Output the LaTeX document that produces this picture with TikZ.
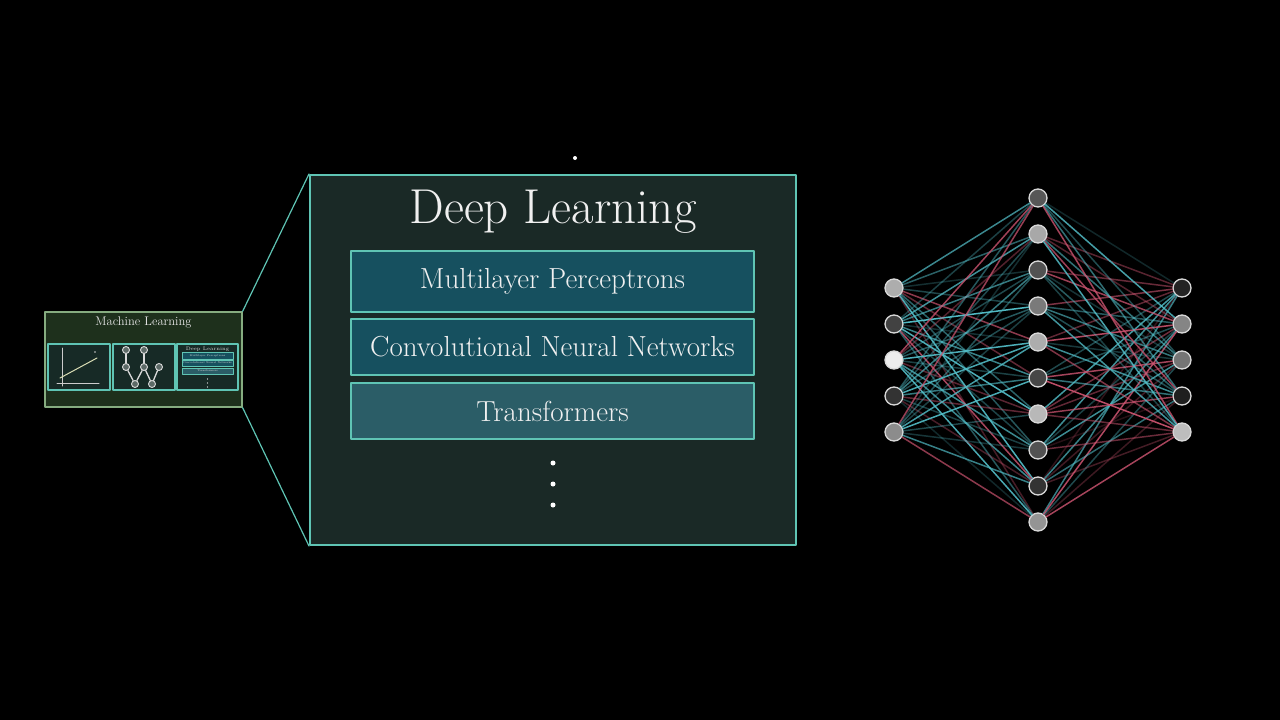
\documentclass[tikz,border=0pt]{standalone}
\usepackage{fontspec}
\usetikzlibrary{positioning}
\providecommand{\dlBorderColor}{dlborder}
\definecolor{dlborder}{HTML}{5FC4B4}
\definecolor{dlfill}{HTML}{1A2926}
\definecolor{mlpfill}{HTML}{16505F}
\definecolor{tffill}{HTML}{2B5D67}
\definecolor{mlfill}{HTML}{1E301C}
\definecolor{mlborder}{HTML}{86AC80}
\definecolor{minifill}{HTML}{172A26}
\definecolor{fitline}{HTML}{D9DDB4}
\definecolor{edge0}{HTML}{CC5470}
\definecolor{edge1}{HTML}{52BCC6}
\tikzset{
  dlbox/.style={draw=dlborder, fill=dlfill, line width=2pt, minimum width=486pt, minimum height=370pt},
  layerbox/.style={draw=dlborder, line width=1.5pt, minimum width=403pt, text=white!94!black,
    font=\fontsize{29}{32}\selectfont},
  minibox/.style={draw=dlborder, fill=minifill, line width=1.2pt, minimum width=62pt, minimum height=46pt},
  tinybox/.style={draw=dlborder, line width=0.4pt, minimum width=51pt, inner sep=0pt,
    text=white!85!black, font=\fontsize{2.6}{3}\selectfont},
  neuron/.style={circle, draw=white!85!black, line width=1.3pt, minimum size=18pt, inner sep=0pt},
  wnode/.style={circle, draw=white!85!black, fill=white!30!minifill, line width=0.9pt, minimum size=7pt, inner sep=0pt},
  dotmark/.style={circle, fill=white, minimum size=5pt, inner sep=0pt},
  zoomline/.style={draw=dlborder, line width=1.2pt},
}
\begin{document}
\begin{tikzpicture}[x=1pt, y=-1pt, line cap=round, line join=round]
  % Background
  \fill[black] (0,0) rectangle (1280,720);
  \useasboundingbox (0,0) rectangle (1280,720);
  \node[dotmark, minimum size=4pt] (stray) at (575,158) {};
  % Deep learning panel
  \node[dlbox] (dl) at (553,360) {};
  \node[text=white!94!black, font=\fontsize{49}{54}\selectfont] (dltitle) at (553,212) {Deep Learning};
  \node[layerbox, fill=mlpfill, minimum height=61pt] (mlp) at (552.5,281.5) {Multilayer Perceptrons};
  \node[layerbox, fill=mlpfill, minimum height=56pt] (cnn) at (552.5,347) {Convolutional Neural Networks};
  \node[layerbox, fill=tffill, minimum height=56pt] (tf) at (552.5,411) {Transformers};
  \node[dotmark] (dot1) at (553,463) {};
  \node[dotmark] (dot2) at (553,484) {};
  \node[dotmark] (dot3) at (553,505) {};
  % Machine learning panel
  \node[draw=mlborder, fill=mlfill, line width=1.2pt, minimum width=197pt, minimum height=95pt] (ml) at (143.5,359.5) {};
  \node[text=white!90!black, font=\fontsize{12.5}{14}\selectfont] (mltitle) at (143.5,322) {Machine Learning};
  \node[minibox] (regbox) at (79,367) {};
  \node[minibox] (wbox) at (144,367) {};
  \node[minibox, minimum width=61pt] (minidl) at (207.5,367) {};
  % Zoom lines
  \draw[zoomline] (ml.north east) -- (dl.north west);
  \draw[zoomline] (ml.south east) -- (dl.south west);
  % Regression thumbnail
  \begin{scope}[draw=white!80!black, line width=1pt]
    \draw (62,348) -- (62,386);
    \draw (57,383) -- (99,383);
  \end{scope}
  \draw[fitline, line width=1pt] (60,378) -- (97,358);
  \fill[white!80!black] (95,352) circle (0.8pt);
  % W thumbnail
  \node[wnode] (w1) at (126,350) {};
  \node[wnode] (w2) at (144,350) {};
  \node[wnode] (w3) at (126,367) {};
  \node[wnode] (w4) at (144,367) {};
  \node[wnode] (w5) at (159,367) {};
  \node[wnode] (w6) at (135,384) {};
  \node[wnode] (w7) at (152,384) {};
  \begin{scope}[draw=white!85!black, line width=1.3pt]
    \draw (w1) -- (w3);
    \draw (w2) -- (w4);
    \draw (w3) -- (w6);
    \draw (w6) -- (w4);
    \draw (w4) -- (w7);
    \draw (w7) -- (w5);
  \end{scope}
  % Deep learning thumbnail
  \node[text=white!85!black, font=\fontsize{5}{6}\selectfont] (minititle) at (207.5,349) {Deep Learning};
  \node[tinybox, fill=mlpfill, minimum height=7pt] (minimlp) at (207.5,355.5) {Multilayer Perceptrons};
  \node[tinybox, fill=mlpfill, minimum height=6pt] (minicnn) at (207.5,363) {Convolutional Neural Networks};
  \node[tinybox, fill=tffill, minimum height=6pt] (minitf) at (207.5,371) {Transformers};
  \foreach \y in {379,383,387}
    \fill[white] (207.5,\y) circle (0.6pt);
  % Network
  \foreach \y/\g [count=\i] in {288/68, 324/26, 360/93, 396/20, 432/55}
    \node[neuron, fill=white!\g!black] (l\i) at (894,\y) {};
  \foreach \y/\g [count=\i] in {198/34, 234/66, 270/32, 306/48, 342/68, 378/28, 414/72, 450/32, 486/20, 522/58}
    \node[neuron, fill=white!\g!black] (m\i) at (1038,\y) {};
  \foreach \y/\g [count=\i] in {288/14, 324/52, 360/46, 396/12, 432/74}
    \node[neuron, fill=white!\g!black] (r\i) at (1182,\y) {};
  \pgfmathsetseed{11}
  \foreach \i in {1,...,5}{
    \foreach \j in {1,...,10}{
      \pgfmathsetmacro\wt{rand}
      \pgfmathtruncatemacro\sgn{\wt>0}
      \pgfmathsetmacro\op{0.18+0.82*abs(\wt)}
      \draw[edge\sgn, line width=1.5pt, draw opacity=\op] (l\i) -- (m\j);
      \pgfmathsetmacro\wt{rand}
      \pgfmathtruncatemacro\sgn{\wt>0}
      \pgfmathsetmacro\op{0.18+0.82*abs(\wt)}
      \draw[edge\sgn, line width=1.5pt, draw opacity=\op] (m\j) -- (r\i);
    }
  }
\end{tikzpicture}
\end{document}
